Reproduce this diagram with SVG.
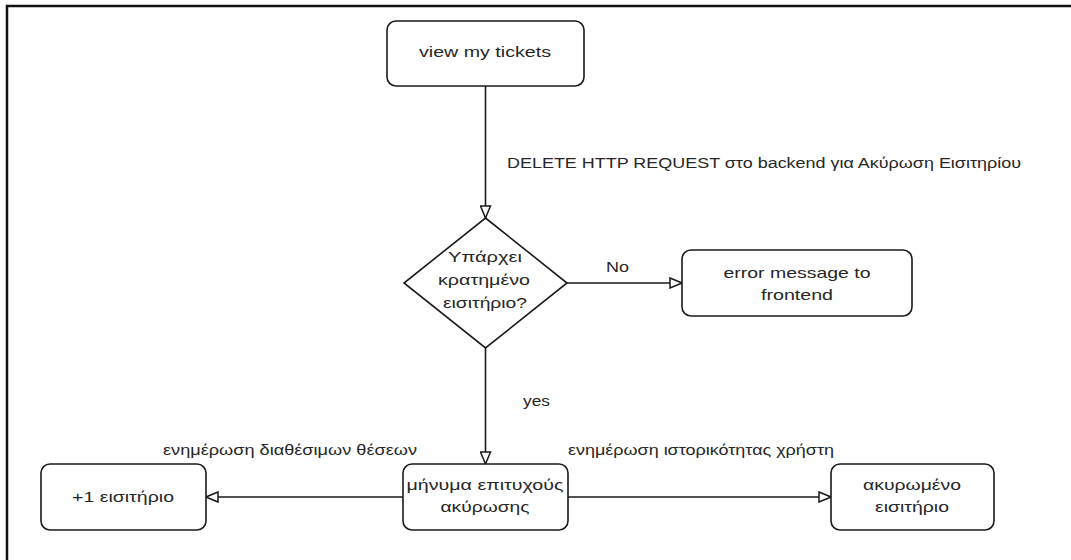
<svg xmlns="http://www.w3.org/2000/svg" width="1071" height="560" viewBox="0 0 1071 560">
  <style>
    .frame { fill: none; stroke: #111; stroke-width: 2.5; }
    .box { fill: #fff; stroke: #1a1a1a; stroke-width: 1.6; }
    .edge { fill: none; stroke: #1a1a1a; stroke-width: 1.6; }
    .t { font-family: "Liberation Sans", Arial, sans-serif; font-size: 15px; fill: #262626; text-anchor: middle; }
    .lbl { font-family: "Liberation Sans", Arial, sans-serif; font-size: 14px; fill: #262626; }
  </style>
  <defs>
    <marker id="open-arrow" viewBox="0 0 14 12" refX="13" refY="6" markerWidth="14" markerHeight="12" markerUnits="userSpaceOnUse" orient="auto">
      <path d="M1,1 L13,6 L1,11 Z" fill="#fff" stroke="#1a1a1a" stroke-width="1.5" stroke-linejoin="miter"/>
    </marker>
  </defs>

  <rect width="1071" height="560" fill="#fff"/>
  <path class="frame" d="M7,560 V6 H1071"/>

  <!-- connectors -->
  <g id="connectors">
    <path class="edge" d="M485.5,86 V218" marker-end="url(#open-arrow)"/>
    <text class="lbl" x="507" y="168" textLength="514" lengthAdjust="spacingAndGlyphs">DELETE HTTP REQUEST στο backend για Ακύρωση Εισιτηρίου</text>

    <path class="edge" d="M567,283 H682" marker-end="url(#open-arrow)"/>
    <text class="lbl" x="606" y="272" textLength="23" lengthAdjust="spacingAndGlyphs">No</text>

    <path class="edge" d="M485.5,348 V464" marker-end="url(#open-arrow)"/>
    <text class="lbl" x="523" y="406" textLength="27" lengthAdjust="spacingAndGlyphs">yes</text>

    <path class="edge" d="M403,497 H206" marker-end="url(#open-arrow)"/>
    <text class="lbl" x="163" y="455" textLength="254" lengthAdjust="spacingAndGlyphs">ενημέρωση διαθέσιμων θέσεων</text>

    <path class="edge" d="M568,497 H831" marker-end="url(#open-arrow)"/>
    <text class="lbl" x="568" y="455" textLength="266" lengthAdjust="spacingAndGlyphs">ενημέρωση ιστορικότητας χρήστη</text>
  </g>

  <g id="view-tickets">
    <rect class="box" x="387" y="21" width="197" height="65" rx="9"/>
    <text class="t" x="485" y="57" textLength="132" lengthAdjust="spacingAndGlyphs">view my tickets</text>
  </g>

  <g id="ticket-check">
    <path class="box" d="M485.5,218 L567,283 L485.5,348 L404,283 Z"/>
    <text class="t" x="485" y="262" textLength="74" lengthAdjust="spacingAndGlyphs">Υπάρχει</text>
    <text class="t" x="484" y="285" textLength="92" lengthAdjust="spacingAndGlyphs">κρατημένο</text>
    <text class="t" x="485" y="308" textLength="84" lengthAdjust="spacingAndGlyphs">εισιτήριο?</text>
  </g>

  <g id="error-message">
    <rect class="box" x="682" y="250" width="230" height="66" rx="9"/>
    <text class="t" x="797" y="278" textLength="147" lengthAdjust="spacingAndGlyphs">error message to</text>
    <text class="t" x="797" y="300" textLength="72" lengthAdjust="spacingAndGlyphs">frontend</text>
  </g>

  <g id="success-message">
    <rect class="box" x="403" y="464" width="165" height="66" rx="9"/>
    <text class="t" x="485" y="490" textLength="157" lengthAdjust="spacingAndGlyphs">μήνυμα επιτυχούς</text>
    <text class="t" x="485" y="512" textLength="89" lengthAdjust="spacingAndGlyphs">ακύρωσης</text>
  </g>

  <g id="plus-one-ticket">
    <rect class="box" x="41" y="464" width="165" height="66" rx="9"/>
    <text class="t" x="123" y="502" textLength="102" lengthAdjust="spacingAndGlyphs">+1 εισιτήριο</text>
  </g>

  <g id="cancelled-ticket">
    <rect class="box" x="831" y="464" width="163" height="66" rx="9"/>
    <text class="t" x="912" y="490" textLength="98" lengthAdjust="spacingAndGlyphs">ακυρωμένο</text>
    <text class="t" x="912" y="512" textLength="74" lengthAdjust="spacingAndGlyphs">εισιτήριο</text>
  </g>
</svg>
